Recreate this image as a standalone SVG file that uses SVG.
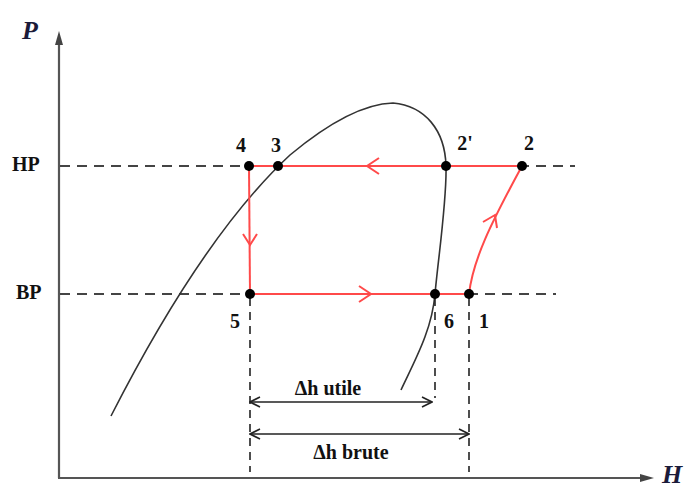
<svg xmlns="http://www.w3.org/2000/svg" width="697" height="490" viewBox="0 0 697 490">
<defs>
<style>
.axis{stroke:#555;stroke-width:2.2;fill:none}
.dash{stroke:#444;stroke-width:2;stroke-dasharray:10 7;fill:none}
.vdash{stroke:#222;stroke-width:1.6;stroke-dasharray:8 6;fill:none}
.dome{stroke:#333;stroke-width:1.6;fill:none}
.red{stroke:#ff4a4a;stroke-width:2;fill:none}
.dim{stroke:#222;stroke-width:1.6;fill:none}
.pt{fill:#000}
.lbl{font-family:"Liberation Serif",serif;font-weight:bold;font-size:20px;fill:#111}
.ax{font-family:"Liberation Serif",serif;font-style:italic;font-weight:bold;font-size:26px;fill:#1b1b3a}
</style>
<marker id="dimhead" viewBox="0 0 12 12" refX="11" refY="6" markerWidth="12" markerHeight="12" markerUnits="userSpaceOnUse" orient="auto-start-reverse">
<path d="M1,1 L11,6 L1,11" fill="none" stroke="#222" stroke-width="1.6"/>
</marker>
</defs>
<rect width="697" height="490" fill="#fff"/>

<g id="axes">
<line class="axis" x1="59" y1="478" x2="59" y2="42"/>
<polygon points="59,31 55,45 63,45" fill="#444"/>
<line class="axis" x1="58" y1="478" x2="642" y2="478"/>
<polygon points="654,478 640,474 640,482" fill="#444"/>
<text class="ax" x="22" y="39">P</text>
<text class="ax" x="662" y="483" font-size="25">H</text>
</g>

<g id="pressure-lines">
<line class="dash" x1="60" y1="166" x2="575" y2="166"/>
<line class="dash" x1="60" y1="294" x2="556" y2="294"/>
<text class="lbl" x="12" y="171">HP</text>
<text class="lbl" x="16" y="299">BP</text>
</g>

<g id="dome">
<path class="dome" d="M111,416 C160,320 220,220 290,155 C320,130 358,104 393,103 C425,106 445,130 446,166 C447,200 438,260 435,294 C432,330 415,360 401,390"/>
</g>

<g id="connectors">
<line class="vdash" x1="250" y1="298" x2="250" y2="472"/>
<line class="vdash" x1="435" y1="298" x2="435" y2="398"/>
<line class="vdash" x1="469" y1="298" x2="469" y2="472"/>
<line class="dim" x1="250" y1="402" x2="432" y2="402" marker-start="url(#dimhead)" marker-end="url(#dimhead)"/>
<line class="dim" x1="250" y1="434" x2="469" y2="434" marker-start="url(#dimhead)" marker-end="url(#dimhead)"/>
</g>

<g id="cycle">
<line class="red" x1="249" y1="166" x2="522" y2="166"/>
<line class="red" x1="249" y1="166" x2="250" y2="294"/>
<line class="red" x1="250" y1="294" x2="469" y2="294"/>
<path class="red" d="M469,294 C473,260 490,225 522,166"/>
<polyline class="red" points="379,158 367,166 379,174"/>
<polyline class="red" points="243,234 250,245 257,234"/>
<polyline class="red" points="359,286 371,294 359,302"/>
<polyline class="red" points="483,222 495,215 497,228"/>
</g>

<g id="node-4"><circle class="pt" cx="249" cy="166" r="5"/><text class="lbl" x="241" y="152" text-anchor="middle">4</text></g>
<g id="node-3"><circle class="pt" cx="278" cy="166" r="5"/><text class="lbl" x="276" y="152" text-anchor="middle">3</text></g>
<g id="node-2p"><circle class="pt" cx="446" cy="166" r="5"/><text class="lbl" x="465" y="150" text-anchor="middle">2'</text></g>
<g id="node-2"><circle class="pt" cx="522" cy="166" r="5"/><text class="lbl" x="529" y="150" text-anchor="middle">2</text></g>
<g id="node-5"><circle class="pt" cx="250" cy="294" r="5"/><text class="lbl" x="235" y="328" text-anchor="middle">5</text></g>
<g id="node-6"><circle class="pt" cx="435" cy="294" r="5"/><text class="lbl" x="449" y="328" text-anchor="middle">6</text></g>
<g id="node-1"><circle class="pt" cx="469" cy="294" r="5"/><text class="lbl" x="484" y="328" text-anchor="middle">1</text></g>

<g id="dim-labels">
<text class="lbl" x="328" y="395" text-anchor="middle" font-size="19">Δh utile</text>
<text class="lbl" x="351" y="459" text-anchor="middle" font-size="19">Δh brute</text>
</g>
</svg>
